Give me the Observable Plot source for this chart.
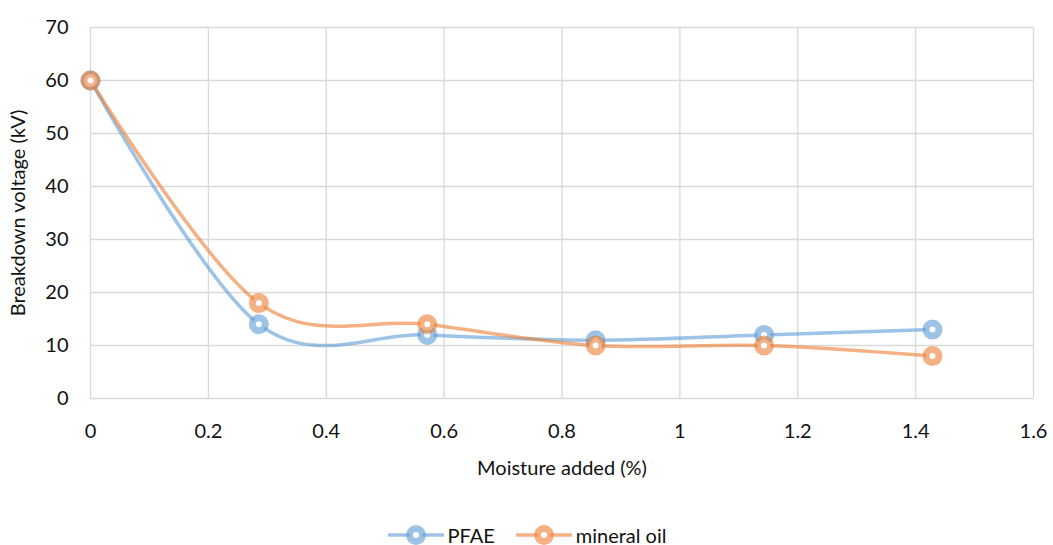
<!DOCTYPE html>
<html>
<head>
<meta charset="utf-8">
<script src="https://cdn.jsdelivr.net/npm/d3@7"></script>
<script src="https://cdn.jsdelivr.net/npm/@observablehq/plot@0.6"></script>
<style>
  html, body { margin: 0; padding: 0; background: #fff; }
  #chart { width: 1053px; font-family: Lato, "Open Sans", sans-serif; }
  .legend { display: flex; justify-content: center; align-items: center; gap: 20px;
            font-size: 20px; color: #111; height: 40px; margin-left: 0px; margin-top: 20px; }
  .legend span { display: inline-flex; align-items: center; gap: 3px; }
</style>
</head>
<body>
<div id="chart"></div>
<script>
// Moisture added (%) at each measurement
const moisture = [0, 0.2857, 0.5714, 0.8571, 1.1429, 1.4286];
// Breakdown voltage (kV) per fluid
const pfae = [60, 14, 12, 11, 12, 13];
const mineralOil = [60, 18, 14, 10, 10, 8];
const seriesNames = ["PFAE", "mineral oil"];
const seriesColors = ["#5b9bd5", "#ed7d31"];
const xTicks = [0, 0.2, 0.4, 0.6, 0.8, 1, 1.2, 1.4, 1.6];
const yTicks = [0, 10, 20, 30, 40, 50, 60, 70];

const rows = [
  ...moisture.map((m, i) => ({x: m, y: pfae[i], s: seriesNames[0]})),
  ...moisture.map((m, i) => ({x: m, y: mineralOil[i], s: seriesNames[1]}))
];

const plot = Plot.plot({
  width: 1053,
  height: 495,
  marginLeft: 90,
  marginRight: 20,
  marginTop: 27,
  marginBottom: 97,
  style: {fontFamily: "Lato, 'Open Sans', sans-serif", fontSize: "20px", color: "#111", background: "#fff"},
  x: {domain: [0, 1.6], ticks: xTicks, tickSize: 0, tickPadding: 25, tickFormat: d => String(d),
      label: "Moisture added (%)", labelAnchor: "center", labelArrow: "none", labelOffset: 76},
  y: {domain: [0, 70], ticks: yTicks, tickSize: 0, tickPadding: 22,
      label: "Breakdown voltage (kV)", labelAnchor: "center", labelArrow: "none", labelOffset: 80},
  color: {domain: seriesNames, range: seriesColors},
  marks: [
    Plot.gridX(xTicks, {stroke: "#d9d9d9", strokeOpacity: 1, strokeWidth: 1.3}),
    Plot.gridY(yTicks, {stroke: "#d9d9d9", strokeOpacity: 1, strokeWidth: 1.3}),
    Plot.line(rows, {x: "x", y: "y", stroke: "s", z: "s", curve: "cardinal",
                     strokeWidth: 3.5, strokeOpacity: 0.6}),
    Plot.dot(rows, {x: "x", y: "y", stroke: "s", fill: "white", r: 6.5,
                    strokeWidth: 7, strokeOpacity: 0.6})
  ]
});
document.getElementById("chart").appendChild(plot);

// Legend below the chart
const legend = d3.select("#chart").append("div").attr("class", "legend");
seriesNames.forEach((name, i) => {
  const item = legend.append("span");
  const svg = item.append("svg").attr("width", 58).attr("height", 24);
  svg.append("line").attr("x1", 1).attr("x2", 57).attr("y1", 12).attr("y2", 12)
    .attr("stroke", seriesColors[i]).attr("stroke-width", 3.5).attr("stroke-opacity", 0.6);
  svg.append("circle").attr("cx", 29).attr("cy", 12).attr("r", 6.5)
    .attr("fill", "white").attr("stroke", seriesColors[i]).attr("stroke-width", 7).attr("stroke-opacity", 0.6);
  item.append("span").text(name);
});
</script>
</body>
</html>
